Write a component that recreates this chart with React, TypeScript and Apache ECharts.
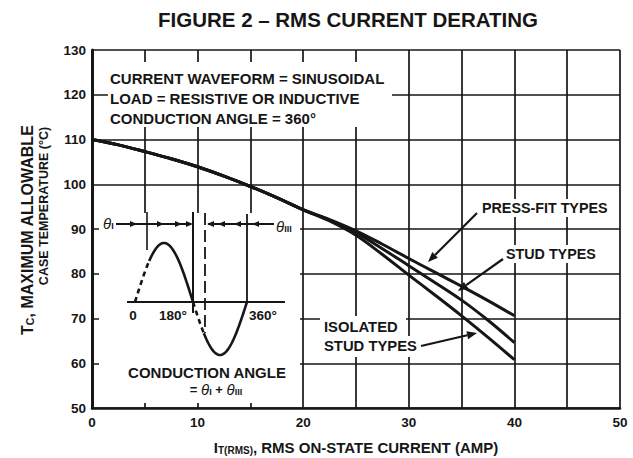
import React, { useEffect, useRef } from "react";
import * as echarts from "echarts";

// ---- data ----
const currentAmps = [0, 2.5, 5, 7.5, 10, 12.5, 15, 17.5, 20, 22.5, 25, 27.5, 30, 32.5, 35, 37.5, 40];
const pressFitTemp = [110, 108.8, 107.3, 105.7, 103.9, 101.8, 99.5, 97.0, 94.3, 92.1, 89.6, 86.6, 83.4, 80.3, 77.2, 74.0, 70.6];
const studTemp = [110, 108.8, 107.3, 105.7, 103.9, 101.8, 99.5, 97.0, 94.3, 92.0, 89.2, 85.6, 81.8, 78.0, 74.1, 69.6, 64.6];
const isolatedStudTemp = [110, 108.8, 107.3, 105.7, 103.9, 101.8, 99.5, 97.0, 94.3, 91.8, 88.6, 84.3, 79.7, 75.2, 70.6, 65.8, 60.8];

const xTicks = [0, 10, 20, 30, 40, 50];
const yTicks = [50, 60, 70, 80, 90, 100, 110, 120, 130];

const FONT = "'Liberation Sans', Arial, sans-serif";
const INK = "#161616";

function arrow(x1: number, y1: number, x2: number, y2: number) {
  const dx = x2 - x1, dy = y2 - y1;
  const len = Math.hypot(dx, dy);
  const ux = dx / len, uy = dy / len;
  const hl = 10, hw = 4;
  const bx = x2 - ux * hl, by = y2 - uy * hl;
  return [
    { type: "line", z: 6, shape: { x1, y1, x2: bx, y2: by }, style: { stroke: INK, lineWidth: 2.2 } },
    {
      type: "polygon", z: 6,
      shape: { points: [[x2, y2], [bx - uy * hw, by + ux * hw], [bx + uy * hw, by - ux * hw]] },
      style: { fill: INK },
    },
  ];
}

function sinePoints(a0: number, a1: number) {
  // schematic conduction waveform in the inset
  const pts: number[][] = [];
  for (let a = a0; a <= a1 + 0.01; a += 4) {
    const pos = a <= 180;
    const x = pos ? 135 + (a / 180) * 58 : 193 + ((a - 180) / 180) * 54;
    const amp = pos ? 59 : 53;
    pts.push([x, 302 - amp * Math.sin((a * Math.PI) / 180)]);
  }
  return pts;
}

function txt(x: number, y: number, text: string, size: number, extra: any = {}) {
  return {
    type: "text", z: 6, x, y,
    style: {
      text, fill: INK, font: `bold ${size}px ${FONT}`,
      align: extra.align || "left", verticalAlign: "middle",
      rich: extra.rich,
    },
    rotation: extra.rotation || 0,
  };
}

function smallTri(x: number, y: number, dir: number) {
  return {
    type: "polygon", z: 6,
    shape: { points: [[x + 4 * dir, y], [x - 3 * dir, y - 3], [x - 3 * dir, y + 3]] },
    style: { fill: INK },
  };
}

export default function App() {
  const ref = useRef<HTMLDivElement>(null);
  useEffect(() => {
    if (!ref.current) return;
    const chart = echarts.init(ref.current, null, { renderer: "svg" });
    const mk = (name: string, vals: number[]) => ({
      name, type: "line", z: 3, smooth: 0.35, showSymbol: false, symbol: "none",
      data: currentAmps.map((x, i) => [x, vals[i]]),
      lineStyle: { color: INK, width: 3 },
    });
    const white = (x: number, y: number, w: number, h: number) => ({
      type: "rect", z: 1, shape: { x, y, width: w, height: h }, style: { fill: "#fff" },
    });
    const subRich = {
      sub: { font: `bold 10px ${FONT}`, fill: INK, padding: [6, 0, 0, 0] },
      ysub: { font: `bold 10.5px ${FONT}`, fill: INK, padding: [6, 0, 0, 0] },
      th: { font: `italic 15px ${FONT}`, fill: INK },
      thsub: { font: `bold 9px ${FONT}`, fill: INK, padding: [6, 0, 0, 0] },
    };
    const graphic: any[] = [
      // white backing areas that interrupt the grid
      white(108, 62, 284, 65),
      white(99, 213, 201, 190),
      white(320, 316, 86, 20),
      white(320, 336, 102, 21),
      white(478, 199, 134, 18),
      white(503, 245, 98, 18),
      // title
      txt(348, 19, "FIGURE 2 – RMS CURRENT DERATING", 20.5, { align: "center" }),
      // conditions box
      txt(110, 78, "CURRENT WAVEFORM = SINUSOIDAL", 15),
      txt(110, 98, "LOAD = RESISTIVE OR INDUCTIVE", 15),
      txt(110, 118, "CONDUCTION ANGLE = 360°", 15),
      // axis titles
      txt(356, 447, "I{sub|T(RMS)}, RMS ON-STATE CURRENT (AMP)", 15, { align: "center", rich: subRich }),
      txt(27, 230, "T{ysub|C}, MAXIMUM ALLOWABLE", 16, { align: "center", rich: subRich, rotation: Math.PI / 2 }),
      txt(44, 206, "CASE TEMPERATURE (°C)", 12.5, { align: "center", rotation: Math.PI / 2 }),
      // curve labels
      txt(482, 208, "PRESS-FIT TYPES", 14.3),
      txt(506, 254, "STUD TYPES", 14.3),
      txt(324, 327, "ISOLATED", 14.8),
      txt(324, 346, "STUD TYPES", 14.8),
      ...arrow(477, 213, 428, 262),
      ...arrow(503, 259, 458, 291),
      ...arrow(421, 346, 477, 333),
      // inset: conduction waveform sketch
      { type: "line", z: 5, shape: { x1: 127, y1: 302, x2: 285, y2: 302 }, style: { stroke: INK, lineWidth: 2 } },
      { type: "line", z: 5, shape: { x1: 147, y1: 212, x2: 147, y2: 250 }, style: { stroke: INK, lineWidth: 1.6 } },
      { type: "line", z: 5, shape: { x1: 193, y1: 212, x2: 193, y2: 313 }, style: { stroke: INK, lineWidth: 2 } },
      { type: "line", z: 5, shape: { x1: 205, y1: 213, x2: 205, y2: 333 }, style: { stroke: INK, lineWidth: 1.8, lineDash: [12, 5] } },
      { type: "line", z: 5, shape: { x1: 247, y1: 214, x2: 247, y2: 302 }, style: { stroke: INK, lineWidth: 1.8 } },
      { type: "polyline", z: 5, shape: { points: sinePoints(0, 44) }, style: { stroke: INK, lineWidth: 2.6, fill: "none", lineDash: [5, 4] } },
      { type: "polyline", z: 5, shape: { points: sinePoints(44, 180) }, style: { stroke: INK, lineWidth: 2.6, fill: "none" } },
      { type: "polyline", z: 5, shape: { points: sinePoints(180, 216) }, style: { stroke: INK, lineWidth: 2.6, fill: "none", lineDash: [5, 4] } },
      { type: "polyline", z: 5, shape: { points: sinePoints(216, 360) }, style: { stroke: INK, lineWidth: 2.6, fill: "none" } },
      // theta arrows row
      { type: "line", z: 5, shape: { x1: 116, y1: 224, x2: 190, y2: 224 }, style: { stroke: INK, lineWidth: 1.8 } },
      smallTri(133, 224, 1), smallTri(160, 224, 1), smallTri(178, 224, 1), smallTri(189, 224, 1),
      { type: "line", z: 5, shape: { x1: 208, y1: 224, x2: 274, y2: 224 }, style: { stroke: INK, lineWidth: 1.8 } },
      smallTri(211, 224, -1), smallTri(222, 224, -1), smallTri(238, 224, -1), smallTri(256, 224, -1),
      txt(103, 223, "{th|θ}{thsub|I}", 14, { rich: subRich }),
      txt(276, 226, "{th|θ}{thsub|III}", 14, { rich: subRich }),
      txt(133, 315, "0", 13.5, { align: "center" }),
      txt(173, 315, "180°", 13.5, { align: "center" }),
      txt(263, 315, "360°", 13.5, { align: "center" }),
      txt(207, 372, "CONDUCTION ANGLE", 15, { align: "center" }),
      txt(216, 389, "= {th|θ}{thsub|I} + {th|θ}{thsub|III}", 13, { align: "center", rich: subRich }),
    ];

    chart.setOption({
      animation: false,
      backgroundColor: "#fff",
      grid: { left: 92, top: 50, width: 528, height: 358, containLabel: false },
      xAxis: {
        type: "value", min: 0, max: 50, interval: 5,
        axisLine: { show: true, lineStyle: { color: INK, width: 2.5 } },
        axisTick: { show: false },
        axisLabel: {
          color: INK, fontFamily: FONT, fontWeight: "bold", fontSize: 13.5, margin: 7,
          formatter: (v: number) => (xTicks.includes(v) ? String(v) : ""),
        },
        splitLine: { show: true, lineStyle: { color: INK, width: 1.7 } },
      },
      yAxis: {
        type: "value", min: 50, max: 130, interval: 10,
        axisLine: { show: true, lineStyle: { color: INK, width: 3 } },
        axisTick: { show: false },
        axisLabel: {
          color: INK, fontFamily: FONT, fontWeight: "bold", fontSize: 13.5, margin: 6,
          formatter: (v: number) => (yTicks.includes(v) ? String(v) : ""),
        },
        splitLine: { show: true, lineStyle: { color: INK, width: 1.7 } },
      },
      series: [
        mk("PRESS-FIT TYPES", pressFitTemp),
        mk("STUD TYPES", studTemp),
        mk("ISOLATED STUD TYPES", isolatedStudTemp),
      ],
      graphic: { elements: graphic },
    });
    return () => chart.dispose();
  }, []);
  return (
    <div
      ref={ref}
      style={{ position: "fixed", left: 0, top: 0, width: 633, height: 458, background: "#fff" }}
    />
  );
}
